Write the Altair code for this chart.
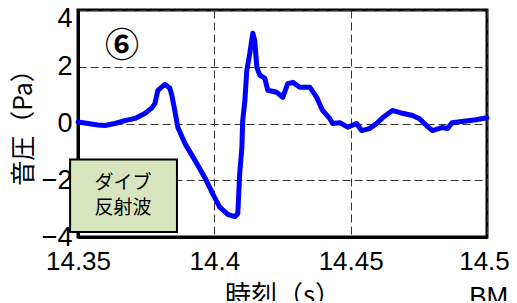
import altair as alt
import pandas as pd

# Waveform (time in s, pressure in Pa)
t_vals = [14.3500, 14.3537, 14.3573, 14.3599, 14.3635, 14.3672, 14.3709, 14.3745,
          14.3771, 14.3782, 14.3793, 14.3819, 14.3837, 14.3844, 14.3855, 14.3866,
          14.3892, 14.3929, 14.3965, 14.3995, 14.4020, 14.4049, 14.4075, 14.4086,
          14.4093, 14.4101, 14.4104, 14.4112, 14.4119, 14.4130, 14.4141, 14.4148,
          14.4156, 14.4167, 14.4185, 14.4196, 14.4229, 14.4251, 14.4269, 14.4288,
          14.4313, 14.4350, 14.4375, 14.4397, 14.4423, 14.4434, 14.4460, 14.4489,
          14.4522, 14.4540, 14.4569, 14.4595, 14.4617, 14.4653, 14.4690, 14.4727,
          14.4752, 14.4778, 14.4800, 14.4837, 14.4855, 14.4872, 14.4908, 14.4960,
          14.5000]
p_vals = [0.05, 0.00, -0.05, -0.07, 0.00, 0.10, 0.18, 0.35,
          0.55, 0.70, 1.17, 1.38, 1.24, 1.00, 0.46, -0.13,
          -0.70, -1.30, -1.90, -2.50, -2.95, -3.20, -3.28, -3.18,
          -1.77, -0.85, 0.10, 0.80, 1.87, 2.47, 3.18, 2.93,
          1.98, 1.70, 1.60, 1.17, 1.10, 0.92, 1.40, 1.45,
          1.28, 1.28, 0.93, 0.46, 0.18, 0.00, 0.03, -0.13,
          0.00, -0.25, -0.18, 0.00, 0.20, 0.46, 0.36, 0.28,
          0.17, -0.07, -0.25, -0.14, -0.18, 0.03, 0.07, 0.13,
          0.20]

x_ticks = [14.35, 14.4, 14.45, 14.5]
y_ticks = [-4, -2, 0, 2, 4]

# Annotation box (data coordinates) and texts
box_x = [14.3471]
box_x2 = [14.3863]
box_y = [-1.27]
box_y2 = [-3.82]
box_text = ["ダイブ", "反射波"]
box_text_x = [14.3665, 14.3665]
box_text_y = [-2.10, -2.98]
label_text = ["⑥"]
label_x = [14.3661]
label_y = [2.69]
corner_text = ["BM"]
corner_x = [14.4935]
corner_y = [-5.65]

df = pd.DataFrame({"t": t_vals, "p": p_vals})
box_df = pd.DataFrame({"x": box_x, "x2": box_x2, "y": box_y, "y2": box_y2})
txt_df = pd.DataFrame({"x": box_text_x, "y": box_text_y, "s": box_text})
lab_df = pd.DataFrame({"x": label_x, "y": label_y, "s": label_text})
bm_df = pd.DataFrame({"x": corner_x, "y": corner_y, "s": corner_text})

xs = alt.Scale(domain=[14.35, 14.5], nice=False, zero=False)
ys = alt.Scale(domain=[-4, 4], nice=False)

line = alt.Chart(df).mark_line(color="#0000ff", strokeWidth=5, strokeCap="round",
                               strokeJoin="round").encode(
    x=alt.X("t:Q", scale=xs, axis=alt.Axis(
        values=x_ticks, format=".2~f", title="時刻（s）", grid=True,
        ticks=False, labelFontSize=26, labelFont="Liberation Sans",
        labelPadding=11, labelColor="black", labelFlush=False,
        labelOffset=alt.ConditionalAxisNumber(
            condition={"test": "datum.value == 14.5", "value": -3}, value=0),
        titleFont="Noto Sans CJK JP", titleFontSize=26, titleFontWeight="normal",
        titleBaseline="top", titleY=45, titleColor="black")),
    y=alt.Y("p:Q", scale=ys, axis=alt.Axis(
        values=y_ticks, title="音圧（Pa）", grid=True, ticks=False,
        labelFontSize=27, labelFont="Liberation Sans", labelPadding=6,
        labelColor="black", labelFlush=False,
        labelOffset=alt.ConditionalAxisNumber(
            condition={"test": "datum.value == 4", "value": 8}, value=0),
        titleFont="Noto Sans CJK JP", titleFontSize=25, titleFontWeight="normal",
        titleBaseline="middle", titleX=-55, titleY=111, titleAngle=-90,
        titleColor="black")),
)

box = alt.Chart(box_df).mark_rect(fill="#d7e4bd", stroke="black", strokeWidth=2).encode(
    x=alt.X("x:Q", scale=xs), x2="x2:Q",
    y=alt.Y("y:Q", scale=ys), y2="y2:Q")

txt = alt.Chart(txt_df).mark_text(font="Noto Sans CJK JP", fontSize=19,
                                  color="black", baseline="middle").encode(
    x=alt.X("x:Q", scale=xs), y=alt.Y("y:Q", scale=ys), text="s:N")

lab = alt.Chart(lab_df).mark_text(font="Noto Sans CJK JP", fontSize=34,
                                  color="black", baseline="middle",
                                  fontWeight="bold").encode(
    x=alt.X("x:Q", scale=xs), y=alt.Y("y:Q", scale=ys), text="s:N")

bm = alt.Chart(bm_df).mark_text(font="Liberation Sans", fontSize=26,
                                color="black", baseline="top", align="left").encode(
    x=alt.X("x:Q", scale=xs), y=alt.Y("y:Q", scale=ys), text="s:N")

chart = alt.layer(line, box, txt, lab, bm).properties(
    width=409, height=227,
    autosize=alt.AutoSizeParams(type="none"),
    padding={"left": 70, "top": 2, "right": 22, "bottom": 64},
).configure_view(
    stroke="black", strokeWidth=3
).configure_axis(
    domainColor="black", domainWidth=3,
    gridColor="#333333", gridDash=[8, 4], gridWidth=1, gridOpacity=1,
)

chart.save("out.html", embed_options={"renderer": "svg", "actions": False})
